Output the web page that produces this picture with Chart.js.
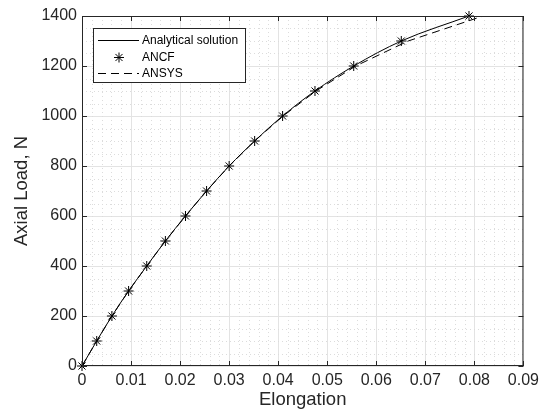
<!DOCTYPE html>
<html>
<head>
<meta charset="utf-8">
<script src="https://cdn.jsdelivr.net/npm/chart.js@4.4.1/dist/chart.umd.min.js"></script>
<style>
  html, body { margin: 0; padding: 0; background: #fff; }
</style>
</head>
<body>
<canvas id="chart" width="544" height="414"></canvas>
<script>
// data
const loads = [0, 100, 200, 300, 400, 500, 600, 700, 800, 900, 1000, 1100, 1200, 1300, 1400];
const ancfElongation = [0, 0.0030, 0.0061, 0.0095, 0.0132, 0.0170, 0.0211, 0.0254, 0.0300, 0.0352, 0.0409, 0.0475, 0.0554, 0.0651, 0.0789];
const analyticalElongation = [0, 0.0030, 0.0061, 0.0095, 0.0132, 0.0170, 0.0211, 0.0254, 0.0300, 0.0352, 0.0409, 0.0475, 0.0554, 0.0651, 0.0789];
const ansysElongation = [0, 0.0030, 0.0061, 0.0095, 0.0132, 0.0170, 0.0211, 0.0254, 0.0300, 0.0352, 0.0410, 0.0477, 0.0558, 0.0665, 0.0818];
const xTicks = [0, 0.01, 0.02, 0.03, 0.04, 0.05, 0.06, 0.07, 0.08, 0.09];
const yTicks = [0, 200, 400, 600, 800, 1000, 1200, 1400];

const FONT = '"Liberation Sans", Arial, sans-serif';
const AXIS_COLOR = '#262626';

const toPoints = (xs, ys) => xs.map((x, i) => ({ x: x, y: ys[i] }));

// minor dotted grid, box and inward ticks, legend
const matlabAxes = {
  id: 'matlabAxes',
  beforeDatasetsDraw(chart) {
    const { ctx, chartArea: a, scales: { x, y } } = chart;
    ctx.save();
    ctx.strokeStyle = '#dcdcdc';
    ctx.lineWidth = 1;
    ctx.setLineDash([1, 3]);
    for (let i = 1; i < 45; i++) {
      if (i % 5 === 0) continue;
      const px = Math.round(x.getPixelForValue(i * 0.002)) + 0.5;
      ctx.beginPath();
      ctx.moveTo(px, a.top);
      ctx.lineTo(px, a.bottom);
      ctx.stroke();
    }
    for (let v = 50; v < 1400; v += 50) {
      if (v % 200 === 0) continue;
      const py = Math.round(y.getPixelForValue(v)) + 0.5;
      ctx.beginPath();
      ctx.moveTo(a.left, py);
      ctx.lineTo(a.right, py);
      ctx.stroke();
    }
    ctx.restore();
  },
  afterDraw(chart) {
    const { ctx, chartArea: a, scales: { x, y } } = chart;
    ctx.save();
    ctx.strokeStyle = AXIS_COLOR;
    ctx.lineWidth = 1;
    ctx.setLineDash([]);
    ctx.strokeRect(a.left + 0.5, a.top + 0.5, a.right - a.left - 1, a.bottom - a.top - 1);
    const len = 5;
    ctx.beginPath();
    xTicks.forEach(v => {
      const px = Math.round(x.getPixelForValue(v)) + 0.5;
      ctx.moveTo(px, a.bottom); ctx.lineTo(px, a.bottom - len);
      ctx.moveTo(px, a.top); ctx.lineTo(px, a.top + len);
    });
    yTicks.forEach(v => {
      const py = Math.round(y.getPixelForValue(v)) + 0.5;
      ctx.moveTo(a.left, py); ctx.lineTo(a.left + len, py);
      ctx.moveTo(a.right, py); ctx.lineTo(a.right - len, py);
    });
    ctx.stroke();

    // legend box
    const lx = 93.5, ly = 28.5, lw = 152, lh = 54;
    ctx.fillStyle = '#fff';
    ctx.fillRect(lx, ly, lw, lh);
    ctx.strokeStyle = AXIS_COLOR;
    ctx.strokeRect(lx, ly, lw, lh);
    const rows = [40, 57, 73];
    ctx.font = '12px ' + FONT;
    ctx.textBaseline = 'middle';
    chart.data.datasets.forEach((ds, i) => {
      const ry = rows[i] + 0.5;
      ctx.strokeStyle = '#000';
      ctx.lineWidth = 1;
      if (ds.showLine !== false) {
        ctx.setLineDash(ds.borderDash || []);
        ctx.beginPath();
        ctx.moveTo(98, ry);
        ctx.lineTo(139, ry);
        ctx.stroke();
        ctx.setLineDash([]);
      } else {
        const r = ds.pointRadius, cx = 119, d = r * Math.SQRT1_2;
        ctx.beginPath();
        ctx.moveTo(cx - r, ry); ctx.lineTo(cx + r, ry);
        ctx.moveTo(cx, ry - r); ctx.lineTo(cx, ry + r);
        ctx.moveTo(cx - d, ry - d); ctx.lineTo(cx + d, ry + d);
        ctx.moveTo(cx - d, ry + d); ctx.lineTo(cx + d, ry - d);
        ctx.stroke();
      }
      ctx.fillStyle = '#000';
      ctx.fillText(ds.label, 142, ry);
    });
    ctx.restore();
  }
};

new Chart(document.getElementById('chart'), {
  type: 'line',
  data: {
    datasets: [
      {
        label: 'Analytical solution',
        data: toPoints(analyticalElongation, loads),
        borderColor: '#000',
        borderWidth: 1,
        pointRadius: 0,
        cubicInterpolationMode: 'monotone'
      },
      {
        label: 'ANCF',
        data: toPoints(ancfElongation, loads),
        showLine: false,
        clip: false,
        pointStyle: 'star',
        pointRadius: 5,
        borderColor: '#000',
        backgroundColor: '#000',
        pointBorderWidth: 1
      },
      {
        label: 'ANSYS',
        data: toPoints(ansysElongation, loads),
        borderColor: '#000',
        borderWidth: 1,
        borderDash: [8, 5],
        pointRadius: 0,
        tension: 0
      }
    ]
  },
  options: {
    responsive: false,
    animation: false,
    devicePixelRatio: 1,
    layout: { padding: { top: 16, right: 20, left: 0, bottom: 0 } },
    plugins: {
      legend: { display: false },
      tooltip: { enabled: false }
    },
    scales: {
      x: {
        type: 'linear',
        min: 0,
        max: 0.09,
        afterFit(scale) { scale.height = 48; },
        afterBuildTicks(scale) { scale.ticks = xTicks.map(v => ({ value: v })); },
        ticks: {
          padding: 5,
          color: AXIS_COLOR,
          font: { family: FONT, size: 16 },
          maxRotation: 0,
          callback: v => (v === 0 ? '0' : v.toFixed(2))
        },
        grid: { color: '#e3e3e3', drawTicks: false },
        border: { display: false },
        title: {
          display: true,
          text: 'Elongation',
          color: AXIS_COLOR,
          font: { family: FONT, size: 18.5 },
          padding: { top: 0, bottom: 3 }
        }
      },
      y: {
        type: 'linear',
        min: 0,
        max: 1400,
        afterFit(scale) { scale.width = 82; },
        afterBuildTicks(scale) { scale.ticks = yTicks.map(v => ({ value: v })); },
        ticks: {
          padding: 5,
          color: AXIS_COLOR,
          font: { family: FONT, size: 16 },
          callback: v => String(v)
        },
        grid: { color: '#e3e3e3', drawTicks: false },
        border: { display: false },
        title: {
          display: true,
          text: 'Axial Load, N',
          color: AXIS_COLOR,
          font: { family: FONT, size: 18.5 },
          padding: { top: 11, bottom: 0 }
        }
      }
    }
  },
  plugins: [matlabAxes]
});
</script>
</body>
</html>
